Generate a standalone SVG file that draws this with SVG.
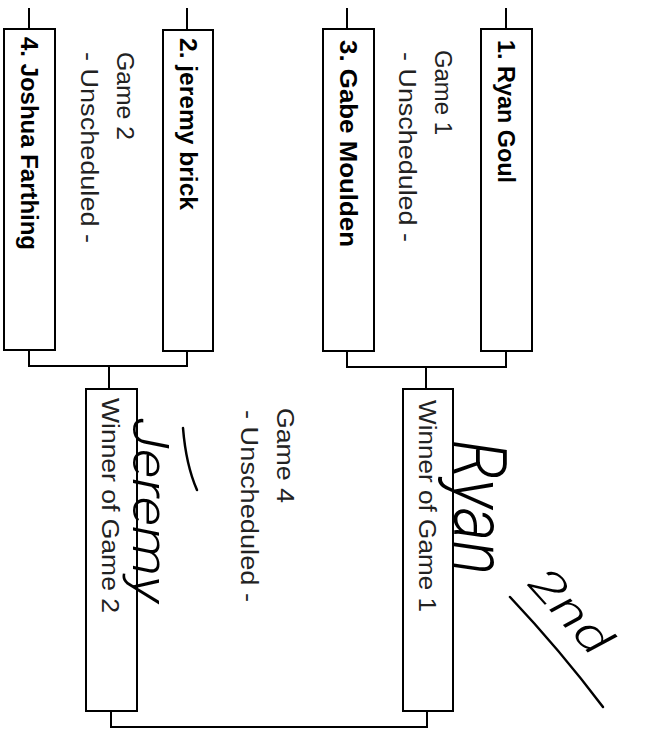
<svg xmlns="http://www.w3.org/2000/svg" width="645" height="729" viewBox="0 0 645 729">
  <style>
    .box { fill: #fff; stroke: #000; stroke-width: 2; }
    .conn { fill: none; stroke: #000; stroke-width: 2; }
    .name { font-family: "Liberation Sans", Arial, sans-serif; font-weight: bold; font-size: 23px; fill: #000; }
    .info { font-family: "Liberation Sans", Arial, sans-serif; font-size: 23px; fill: #222; }
    .hand { font-family: Roboto, "Liberation Sans", sans-serif; font-weight: 300; font-style: italic; fill: #000; }
    .ink { fill: none; stroke: #000; stroke-width: 2.5; stroke-linecap: round; }
  </style>

  <g id="connectors">
    <path class="conn" d="M29 8 V29 M187 8 V30 M347 8 V29 M506 8 V29"/>
    <path class="conn" d="M29 350 V366 H187 V351 M109 366 V389"/>
    <path class="conn" d="M347 351 V367 H506 V351 M426 367 V389"/>
    <path class="conn" d="M111 711 V727 H427 V711"/>
  </g>

  <g id="seed4">
    <rect class="box" x="4" y="29" width="51" height="321"/>
    <text class="name" transform="translate(21,37) rotate(90)" textLength="213" lengthAdjust="spacingAndGlyphs">4. Joshua Farthing</text>
  </g>
  <g id="seed2">
    <rect class="box" x="163" y="30" width="50" height="321"/>
    <text class="name" transform="translate(180,38) rotate(90)" textLength="172" lengthAdjust="spacingAndGlyphs">2. jeremy brick</text>
  </g>
  <g id="seed3">
    <rect class="box" x="323" y="29" width="51" height="322"/>
    <text class="name" transform="translate(340,40) rotate(90)" textLength="207" lengthAdjust="spacingAndGlyphs">3. Gabe Moulden</text>
  </g>
  <g id="seed1">
    <rect class="box" x="481" y="29" width="51" height="322"/>
    <text class="name" transform="translate(498,40) rotate(90)" textLength="143" lengthAdjust="spacingAndGlyphs">1. Ryan Goul</text>
  </g>

  <g id="game2">
    <text class="info" transform="translate(117,52) rotate(90)" textLength="88" lengthAdjust="spacingAndGlyphs">Game 2</text>
    <text class="info" transform="translate(81,52) rotate(90)" textLength="191" lengthAdjust="spacingAndGlyphs">- Unscheduled -</text>
  </g>
  <g id="game1">
    <text class="info" transform="translate(435,50) rotate(90)" textLength="85" lengthAdjust="spacingAndGlyphs">Game 1</text>
    <text class="info" transform="translate(399,52) rotate(90)" textLength="190" lengthAdjust="spacingAndGlyphs">- Unscheduled -</text>
  </g>

  <g id="winner2">
    <rect class="box" x="86" y="389" width="51" height="322"/>
    <text class="info" transform="translate(102,398) rotate(90)" textLength="215" lengthAdjust="spacingAndGlyphs">Winner of Game 2</text>
  </g>
  <g id="winner1">
    <rect class="box" x="403" y="389" width="50" height="322"/>
    <text class="info" transform="translate(419,400) rotate(90)" textLength="212" lengthAdjust="spacingAndGlyphs">Winner of Game 1</text>
  </g>

  <g id="game4">
    <text class="info" transform="translate(277,408) rotate(90)" textLength="95" lengthAdjust="spacingAndGlyphs">Game 4</text>
    <text class="info" transform="translate(241,410) rotate(90)" textLength="192" lengthAdjust="spacingAndGlyphs">- Unscheduled -</text>
  </g>

  <g id="handwriting">
    <text class="hand" font-size="74" transform="translate(454,440) rotate(90)" textLength="135" lengthAdjust="spacingAndGlyphs">Ryan</text>
    <text class="hand" font-size="50" transform="translate(133,418) rotate(90)" textLength="185" lengthAdjust="spacingAndGlyphs">Jeremy</text>
    <text class="hand" font-size="44" transform="translate(526,584) rotate(48)" textLength="100" lengthAdjust="spacingAndGlyphs">2nd</text>
    <path class="ink" d="M510 597 Q560 650 603 707"/>
    <path class="ink" d="M183 428 Q186 465 197 490"/>
  </g>
</svg>
